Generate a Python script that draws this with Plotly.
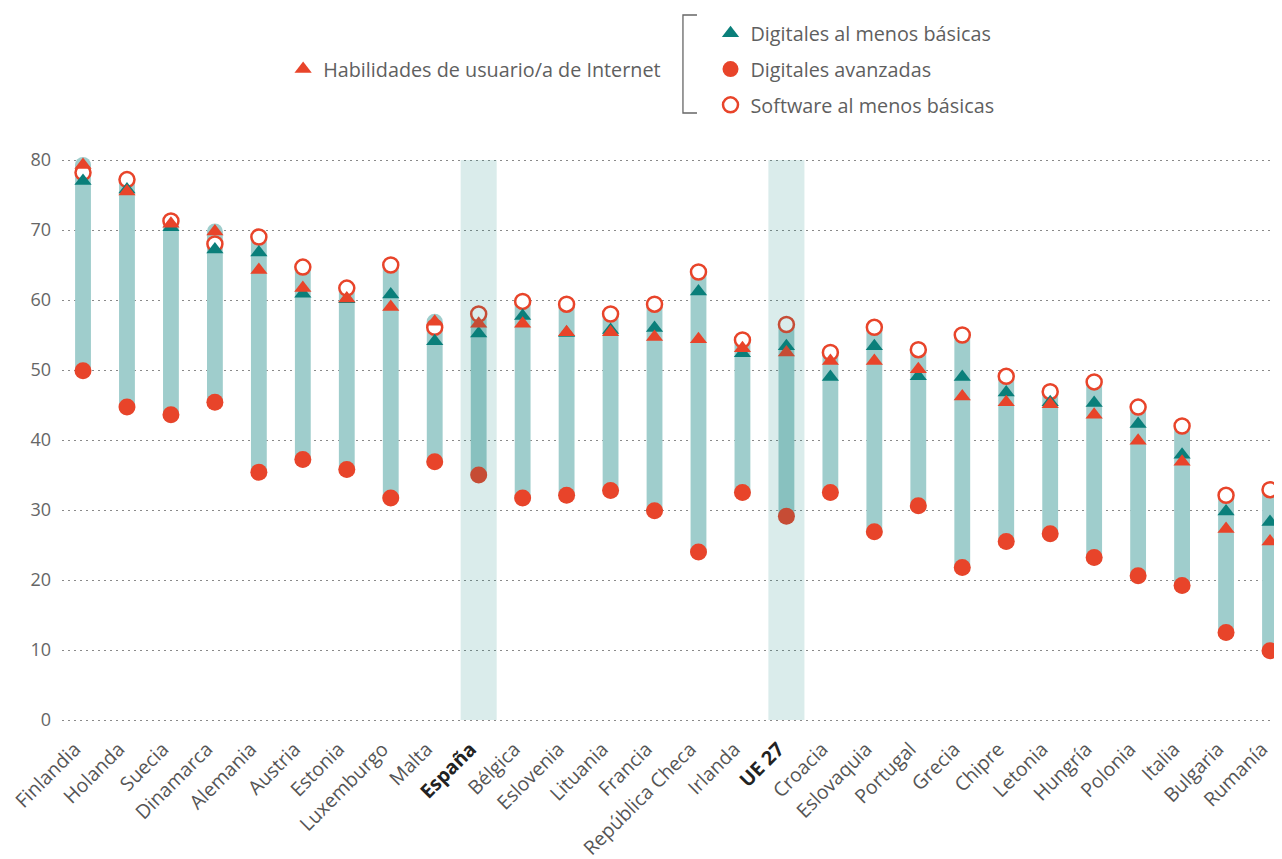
import plotly.graph_objects as go

countries = ["Finlandia", "Holanda", "Suecia", "Dinamarca", "Alemania", "Austria", "Estonia",
             "Luxemburgo", "Malta", "España", "Bélgica", "Eslovenia", "Lituania", "Francia",
             "República Checa", "Irlanda", "UE 27", "Croacia", "Eslovaquia", "Portugal", "Grecia",
             "Chipre", "Letonia", "Hungría", "Polonia", "Italia", "Bulgaria", "Rumanía"]
highlight = ["España", "UE 27"]

habilidades_internet = [79.3, 75.5, 70.9, 69.8, 64.3, 61.7, 60.2, 59.0, 56.9, 56.6, 56.6, 55.4, 55.4, 54.7,
                        54.4, 53.1, 52.5, 51.3, 51.3, 50.1, 46.2, 45.4, 45.1, 43.6, 39.9, 36.9, 27.3, 25.5]
digitales_basicas = [77.0, 75.8, 70.4, 67.2, 66.8, 60.9, 60.1, 60.8, 54.1, 55.2, 57.7, 55.3, 55.7, 56.0,
                     61.2, 52.4, 53.4, 49.0, 53.4, 49.1, 49.0, 46.8, 45.4, 45.3, 42.3, 37.9, 29.8, 28.3]
digitales_avanzadas = [49.9, 44.7, 43.6, 45.4, 35.4, 37.2, 35.8, 31.7, 36.9, 35.0, 31.7, 32.1, 32.8, 29.9,
                       24.0, 32.5, 29.1, 32.5, 26.9, 30.6, 21.8, 25.5, 26.6, 23.2, 20.6, 19.2, 12.5, 9.9]
software_basicas = [78.2, 77.2, 71.3, 68.0, 69.0, 64.7, 61.7, 65.0, 56.1, 58.0, 59.8, 59.4, 58.0, 59.4,
                    64.0, 54.3, 56.5, 52.5, 56.1, 52.9, 55.0, 49.1, 46.9, 48.3, 44.7, 42.0, 32.1, 32.9]
y_ticks = [0, 10, 20, 30, 40, 50, 60, 70, 80]

RED = "#e8442a"
TEAL = "#0a7f7a"
BAR = "#9fcdcc"
GREY = "#5f5f5f"
FONT = "Open Sans"

idx = list(range(len(countries)))
lows = [min(v) for v in zip(habilidades_internet, digitales_basicas, digitales_avanzadas, software_basicas)]
highs = [max(v) for v in zip(habilidades_internet, digitales_basicas, digitales_avanzadas, software_basicas)]
ticktext = [f"<span style='color:#222'><b>{c}</b></span>" if c in highlight else c for c in countries]

fig = go.Figure()

# range bars
fig.add_trace(go.Bar(x=idx, y=[h - l for h, l in zip(highs, lows)], base=lows, width=0.36,
                     marker=dict(color=BAR, line=dict(width=0)), showlegend=False, hoverinfo="skip"))
# rounded caps
fig.add_trace(go.Scatter(x=idx + idx, y=highs + lows, mode="markers",
                         marker=dict(symbol="circle", size=16, color=BAR, line=dict(width=0)),
                         showlegend=False, hoverinfo="skip"))

fig.add_trace(go.Scatter(x=idx, y=digitales_avanzadas, mode="markers", name="Digitales avanzadas",
                         marker=dict(symbol="circle", size=17, color=RED, line=dict(width=0)),
                         legend="legend2", legendrank=2, legendgroup="g2"))
fig.add_trace(go.Scatter(x=idx, y=software_basicas, mode="markers", name="Software al menos básicas",
                         marker=dict(symbol="circle", size=15, color="white", line=dict(width=2.5, color=RED)),
                         legend="legend2", legendrank=3, legendgroup="g3"))
fig.add_trace(go.Scatter(x=idx, y=digitales_basicas, mode="markers", name="Digitales al menos básicas",
                         marker=dict(symbol="triangle-up", size=15, color=TEAL, line=dict(width=0)),
                         legend="legend2", legendrank=1, legendgroup="g1"))
fig.add_trace(go.Scatter(x=idx, y=habilidades_internet, mode="markers", name="Habilidades de usuario/a de Internet",
                         marker=dict(symbol="triangle-up", size=15, color=RED, line=dict(width=0)),
                         legend="legend", legendgroup="g0"))

shapes = []
for i, c in enumerate(countries):
    if c in highlight:
        shapes.append(dict(type="rect", xref="x", yref="y", x0=i - 0.41, x1=i + 0.41, y0=0, y1=80,
                           fillcolor=TEAL, opacity=0.15, line=dict(width=0), layer="above"))
# legend bracket
shapes.append(dict(type="path", xref="paper", yref="paper",
                   path="M 0.5209,1.2108 L 0.5094,1.2108 L 0.5094,1.0455 L 0.5209,1.0455",
                   line=dict(color="#666", width=1.3)))

fig.update_layout(
    width=1274, height=851,
    margin=dict(l=54, r=1, t=132, b=126, autoexpand=False),
    paper_bgcolor="white", plot_bgcolor="white",
    font=dict(family=FONT, size=17, color=GREY),
    barmode="overlay",
    shapes=shapes,
    legend=dict(x=0.1814, y=1.1197, xanchor="left", yanchor="middle", orientation="v",
                font=dict(size=19.8, color=GREY), bgcolor="rgba(0,0,0,0)"),
    legend2=dict(x=0.532, y=1.2125, xanchor="left", yanchor="top", orientation="v",
                 font=dict(size=19.8, color=GREY), bgcolor="rgba(0,0,0,0)", tracegroupgap=7,
                 traceorder="grouped"),
    xaxis=dict(range=[-0.478, 27.25], tickmode="array", tickvals=idx, ticktext=ticktext,
               tickangle=-45, showgrid=False, zeroline=False, showline=False, ticks="",
               automargin=False, ticklabelshift=-8, tickfont=dict(size=19.5, color="#555")),
    yaxis=dict(range=[-1.857, 82.857], tickmode="array", tickvals=y_ticks, showgrid=True,
               gridcolor="#8a8a8a", griddash="1.5px,4.5px", gridwidth=1.2, zeroline=False, showline=False,
               ticks="", automargin=False, ticklabelstandoff=10, tickfont=dict(size=18, color="#666")),
)

fig.write_html("out.html")
